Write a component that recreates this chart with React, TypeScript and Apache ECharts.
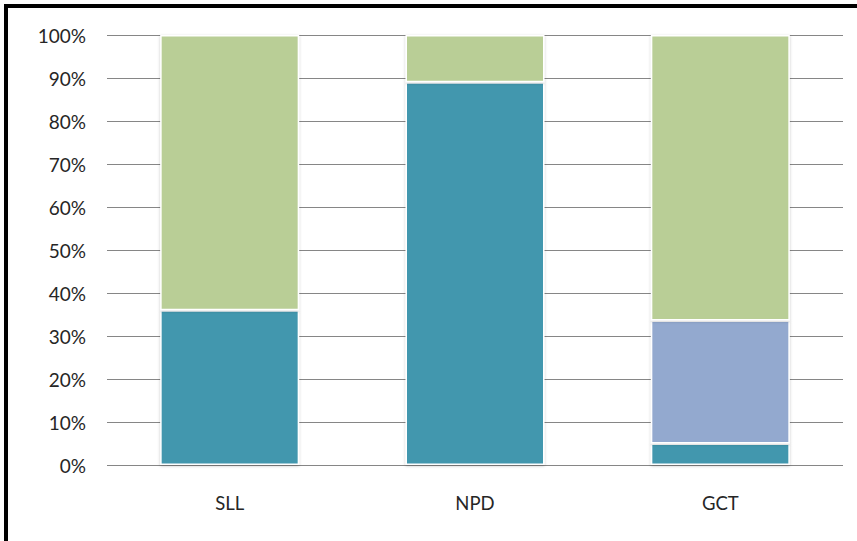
import React, { useEffect, useRef } from "react";
import * as echarts from "echarts";

const categories = ["SLL", "NPD", "GCT"];
const tealValues = [36, 89, 5];
const lavenderValues: (number | null)[] = [null, null, 28.6];
const greenValues = [64, 11, 66.4];
const yTicks = [0, 10, 20, 30, 40, 50, 60, 70, 80, 90, 100];

const FONT = "Lato";

export default function App() {
  const ref = useRef<HTMLDivElement>(null);
  useEffect(() => {
    if (!ref.current) return;
    const chart = echarts.init(ref.current, null, { renderer: "svg" });
    const barStyle = (color: string) => ({
      color,
      borderColor: "#ffffff",
      borderWidth: 1.5,
      shadowBlur: 3,
      shadowColor: "rgba(0,0,0,0.22)",
      shadowOffsetX: 0,
      shadowOffsetY: 1,
    });
    chart.setOption({
      animation: false,
      backgroundColor: "#ffffff",
      grid: { left: 107, right: 14, top: 35, bottom: 76 },
      xAxis: {
        type: "category",
        data: categories,
        axisLine: { show: false },
        axisTick: { show: false },
        axisLabel: { color: "#262626", fontFamily: FONT, fontSize: 18.5, margin: 28 },
      },
      yAxis: {
        type: "value",
        min: yTicks[0],
        max: yTicks[yTicks.length - 1],
        interval: 10,
        axisLine: { show: false },
        axisTick: { show: false },
        axisLabel: {
          formatter: "{value}%",
          color: "#262626",
          fontFamily: FONT,
          fontSize: 19,
          margin: 21,
        },
        splitLine: { show: true, lineStyle: { color: "#868686", width: 1.2 } },
      },
      series: [
        { type: "bar", stack: "s", barWidth: 139, data: tealValues, itemStyle: barStyle("#4397AE") },
        { type: "bar", stack: "s", barWidth: 139, data: lavenderValues, itemStyle: barStyle("#93A9CF") },
        { type: "bar", stack: "s", barWidth: 139, data: greenValues, itemStyle: barStyle("#B9CE96") },
      ],
      graphic: [
        { type: "rect", left: 4, top: 4, shape: { width: 4, height: 537 }, style: { fill: "#000000" } },
        { type: "rect", left: 4, top: 4, shape: { width: 853, height: 4 }, style: { fill: "#000000" } },
      ],
    });
    return () => chart.dispose();
  }, []);
  return (
    <div
      ref={ref}
      style={{ position: "absolute", left: 0, top: 0, width: 857, height: 541, background: "#fff" }}
    />
  );
}
